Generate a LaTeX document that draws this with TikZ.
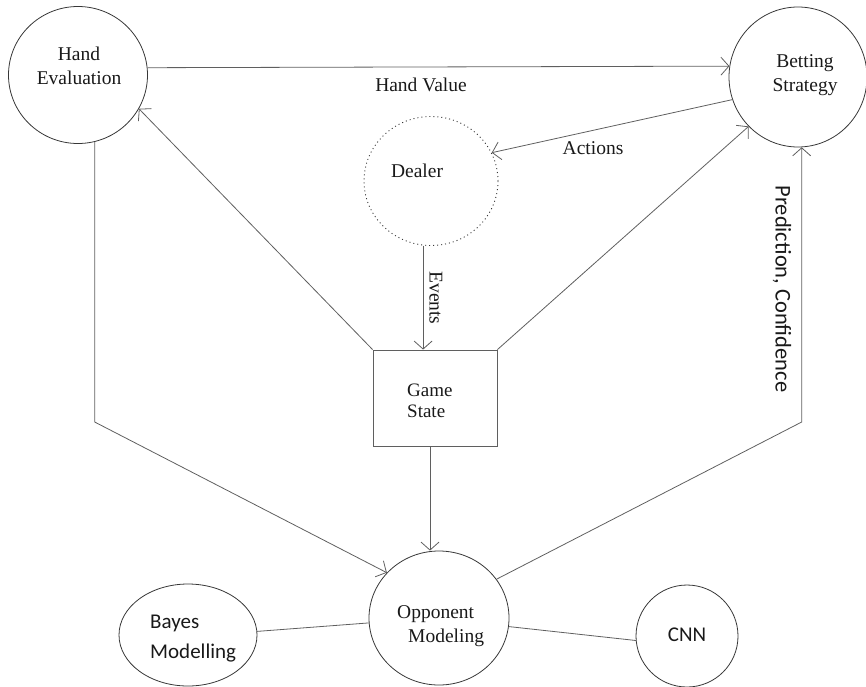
\documentclass[tikz,border=0pt]{standalone}
\usepackage{fontspec}
\setmainfont{Liberation Serif}
\newfontfamily\carlfont{Carlito}
\usetikzlibrary{arrows.meta,shapes.geometric,calc}
\definecolor{linegray}{RGB}{95,95,95}
\definecolor{ringgray}{RGB}{55,55,55}
\definecolor{txt}{RGB}{25,25,25}
\begin{document}
\begin{tikzpicture}[x=1pt,y=-1pt,
  ring/.style={draw=ringgray, line width=0.8pt, ellipse, inner sep=0pt},
  dotring/.style={draw=ringgray, line width=0.9pt, ellipse, inner sep=0pt, dash pattern=on 1pt off 3pt},
  boxnode/.style={draw=linegray, line width=0.9pt, rectangle, inner sep=0pt},
  conn/.style={draw=linegray, line width=0.8pt},
  arr/.style={conn, -{Straight Barb[length=8pt,width=18pt]}},
  serif/.style={text=txt, inner sep=0pt, font=\rmfamily\fontsize{19.5}{24}\selectfont},
  sans/.style={text=txt, inner sep=0pt, font=\carlfont\fontsize{21}{30}\selectfont},
  plainlabel/.style={text=txt, inner sep=0pt, font=\rmfamily\fontsize{19.5}{24}\selectfont}
]
\useasboundingbox (0,0) rectangle (866,686);

% shapes
\node[ring, minimum width=139pt, minimum height=137pt] (he) at (78,75) {};
\node[ring, minimum width=138pt, minimum height=140pt] (bs) at (798,77) {};
\node[dotring, minimum width=134pt, minimum height=129pt] (dl) at (431,181) {};
\node[boxnode, minimum width=124pt, minimum height=96pt] (gs) at (435,398) {};
\node[ring, minimum width=140pt, minimum height=134pt] (op) at (439,618) {};
\node[ring, minimum width=138pt, minimum height=102pt] (bm) at (188,635) {};
\node[ring, minimum width=102pt, minimum height=102pt] (cn) at (687,636) {};

% texts
\node[serif, align=center] (heT) at (79,66) {Hand\\Evaluation};
\node[serif, align=center] (bsT) at (805,75) {Betting\\Strategy};
\node[serif] (dlT) at (417,171) {Dealer};
\node[serif, align=left, anchor=west, font=\rmfamily\fontsize{19}{21}\selectfont] (gsT) at (407,401) {Game\\State};
\node[serif, align=left, anchor=west] (opT) at (397,626) {Opponent\\\hspace*{11pt}Modeling};
\node[sans, align=left, anchor=west] (bmT) at (150,639) {Bayes\\Modelling};
\node[sans] (cnT) at (687,635) {CNN};

% corner coordinates
\coordinate (k1) at (95,422);
\coordinate (k2) at (801,422);

% connectors
\draw[arr] (he.6.7) -- (bs.171.7);
\node[plainlabel] (hvL) at (421,85) {Hand Value};
\draw[arr] (gs.north west) -- (he.-29);
\draw[arr] (gs.north east) -- (bs.-135);
\draw[arr] (bs.-161.3) -- (dl.25);
\node[plainlabel] (acL) at (593,148) {Actions};
\draw[arr] (dl.-97) -- (dl.-97 |- gs.north);
\node[plainlabel, rotate=-90] (evL) at (436,298) {Events};
\coordinate (gsb) at ($(gs.south)+(-5,0)$);
\draw[arr] (gsb) -- (gsb |- op.north);
\draw[arr] (he.-76) -- (he.-76 |- k1) -- (op.139);
\draw[arr] (op.34) -- (bs.-87.5 |- k2) -- (bs.-87.5);
\node[sans, rotate=-90, font=\carlfont\fontsize{22.5}{27}\selectfont] (pcL) at (782,289) {Prediction, Confidence};
\draw[conn] (bm.3) -- (op.-176.6);
\draw[conn] (op.-7) -- (cn.-175.5);
\end{tikzpicture}
\end{document}
